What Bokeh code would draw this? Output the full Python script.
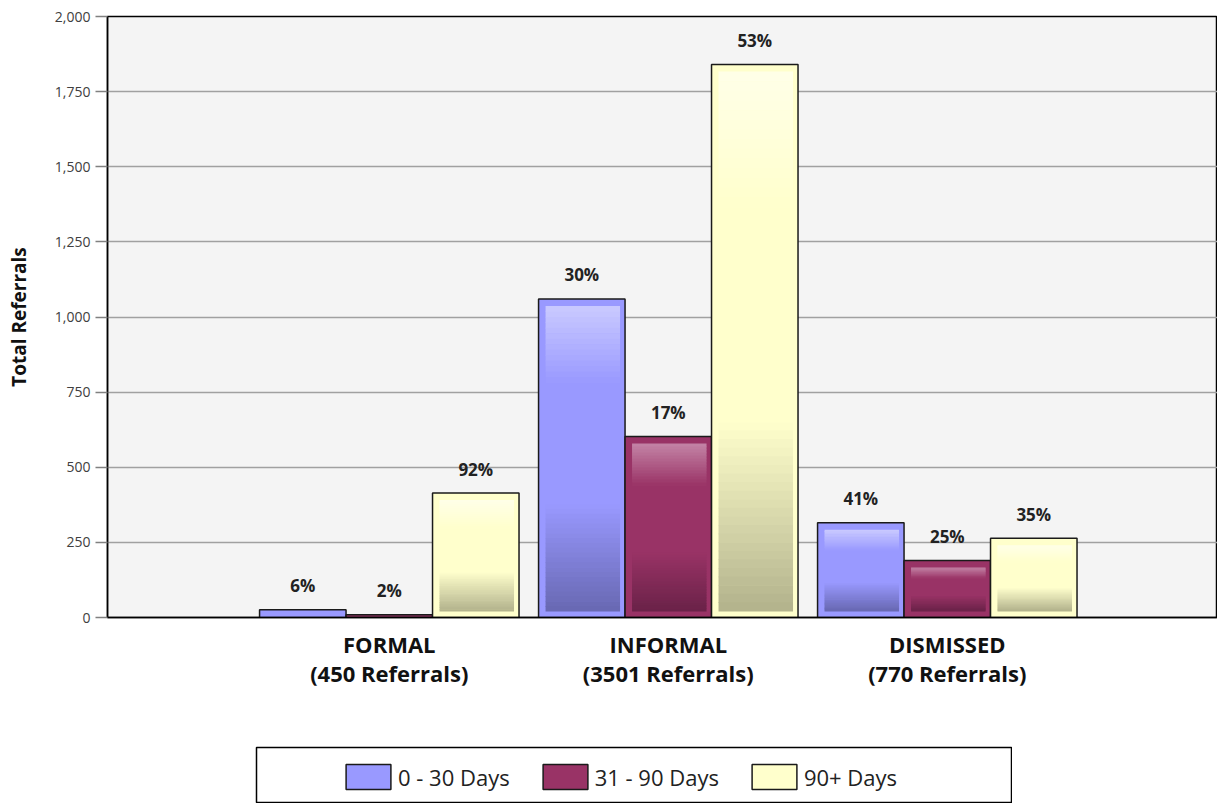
import numpy as np
from bokeh.plotting import figure
from bokeh.models import (Range1d, FixedTicker, NumeralTickFormatter, Legend,
                          LegendItem, Spacer, ColumnDataSource)
from bokeh.layouts import column, row
from bokeh.core.properties import value
from bokeh.embed import file_html
from bokeh.resources import INLINE

# ---------------- data ----------------
categories = ["FORMAL", "INFORMAL", "DISMISSED"]
totals = [450, 3501, 770]
series_names = ["0 - 30 Days", "31 - 90 Days", "90+ Days"]
days_0_30 = [26, 1060, 315]
days_31_90 = [9, 602, 190]
days_90_plus = [414, 1840, 264]
pct_0_30 = ["6%", "30%", "41%"]
pct_31_90 = ["2%", "17%", "25%"]
pct_90_plus = ["92%", "53%", "35%"]
y_ticks = [0, 250, 500, 750, 1000, 1250, 1500, 1750, 2000]

# ---------------- styles ----------------
FONT = "Open Sans"
base_colors = [(153, 153, 255), (153, 51, 102), (255, 255, 204)]
top_colors = [(202, 202, 255), (196, 132, 166), (255, 255, 232)]
bottom_colors = [(104, 104, 178), (106, 34, 72), (178, 178, 140)]

W, H = 1217, 746
BORDER_L, BORDER_T = 107, 16
FRAME_H = 601
BORDER_B = H - BORDER_T - FRAME_H
FRAME_W = W - BORDER_L
PX_PER_CAT = 279.0
X0 = -0.01
Y_MAX = 2000
BAR_W = 0.31
OFFSETS = [-BAR_W, 0.0, BAR_W]


def hexc(c):
    return "#%02x%02x%02x" % tuple(int(round(v)) for v in c)


def mix(a, b, t):
    return tuple(a[i] + (b[i] - a[i]) * t for i in range(3))


p = figure(width=W, height=H,
           x_range=Range1d(X0, X0 + FRAME_W / PX_PER_CAT),
           y_range=Range1d(0, Y_MAX),
           output_backend="svg", toolbar_location=None,
           min_border_left=BORDER_L, min_border_right=0,
           min_border_top=BORDER_T, min_border_bottom=BORDER_B,
           background_fill_color="#F4F4F4", border_fill_color="white",
           outline_line_color="black", outline_line_width=1.5)

# grid
p.xgrid.grid_line_color = None
p.ygrid.grid_line_color = "#A0A0A0"
p.ygrid.grid_line_width = 1.5
p.ygrid.ticker = FixedTicker(ticks=y_ticks)

# y axis
p.yaxis.ticker = FixedTicker(ticks=y_ticks)
p.yaxis.formatter = NumeralTickFormatter(format="0,0")
p.yaxis.axis_label = "Total Referrals"
p.yaxis.axis_label_text_font = FONT
p.yaxis.axis_label_text_font_style = "bold"
p.yaxis.axis_label_text_font_size = "19px"
p.yaxis.axis_label_text_color = "#111111"
p.yaxis.axis_label_standoff = 20
p.yaxis.major_label_text_font = FONT
p.yaxis.major_label_text_font_size = "14px"
p.yaxis.major_label_text_color = "#404040"
p.yaxis.major_label_standoff = 5
p.yaxis.major_tick_out = 12
p.yaxis.major_tick_in = 0
p.yaxis.major_tick_line_color = "#808080"
p.yaxis.major_tick_line_width = 1.5
p.yaxis.minor_tick_line_color = None
p.yaxis.axis_line_color = "black"
p.yaxis.axis_line_width = 1.5

# x axis
p.xaxis.ticker = FixedTicker(ticks=[1, 2, 3])
p.xaxis.major_label_overrides = {
    i + 1: "%s\n(%d Referrals)" % (categories[i], totals[i]) for i in range(3)
}
p.xaxis.major_label_text_font = FONT
p.xaxis.major_label_text_font_style = "bold"
p.xaxis.major_label_text_font_size = "22px"
p.xaxis.major_label_text_color = "#111111"
p.xaxis.major_label_text_line_height = 0.98
p.xaxis.major_label_standoff = 5
p.xaxis.major_tick_line_color = None
p.xaxis.minor_tick_line_color = None
p.xaxis.axis_line_color = "black"
p.xaxis.axis_line_width = 1.5

# ---------------- bars ----------------
series_values = [days_0_30, days_31_90, days_90_plus]
series_pcts = [pct_0_30, pct_31_90, pct_90_plus]
units_per_px_x = 1.0 / PX_PER_CAT
units_per_px_y = Y_MAX / FRAME_H
IN_L, IN_R, IN_T, IN_B = 7, 5, 7, 6
N_LIGHT, N_DARK = 14, 22
LIGHT_END, DARK_START = 0.25, 0.65

group_x = [i + 1 for i in range(len(categories))]

for s in range(3):
    xs = [g + OFFSETS[s] for g in group_x]
    p.vbar(x=xs, top=series_values[s], bottom=0, width=BAR_W,
           fill_color=hexc(base_colors[s]), line_color="#1a1a1a", line_width=1.5)

    # inner gradient, built as thin slices
    L, R, B, T, C = [], [], [], [], []
    for xc, v in zip(xs, series_values[s]):
        left = xc - BAR_W / 2 + IN_L * units_per_px_x
        right = xc + BAR_W / 2 - IN_R * units_per_px_x
        bot = IN_B * units_per_px_y
        top = v - IN_T * units_per_px_y
        h = top - bot
        if h <= 0:
            continue
        ov = 0.6 * units_per_px_y
        for k in range(N_LIGHT):
            f0 = LIGHT_END * k / N_LIGHT
            f1 = LIGHT_END * (k + 1) / N_LIGHT
            t = (f0 + f1) / 2 / LIGHT_END
            L.append(left); R.append(right)
            T.append(top - f0 * h); B.append(top - f1 * h - ov)
            C.append(hexc(mix(top_colors[s], base_colors[s], t)))
        for k in range(N_DARK):
            f0 = DARK_START + (1 - DARK_START) * k / N_DARK
            f1 = DARK_START + (1 - DARK_START) * (k + 1) / N_DARK
            t = ((f0 + f1) / 2 - DARK_START) / (1 - DARK_START)
            L.append(left); R.append(right)
            T.append(top - f0 * h + (ov if k > 0 else 0)); B.append(top - f1 * h)
            C.append(hexc(mix(base_colors[s], bottom_colors[s], t)))
    src = ColumnDataSource(dict(left=L, right=R, top=T, bottom=B, color=C))
    p.quad(left="left", right="right", top="top", bottom="bottom", source=src,
           fill_color="color", line_color=None)

    p.text(x=xs, y=series_values[s], text=series_pcts[s],
           text_align="center", text_baseline="alphabetic", y_offset=-24,
           text_font=value(FONT), text_font_style="bold",
           text_font_size="17px", text_color="#222222")

# ---------------- legend box ----------------
LEG_X, LEG_W, LEG_H = 255, 757, 57
p2 = figure(width=LEG_W, height=LEG_H, x_range=Range1d(0, 1), y_range=Range1d(0, 1),
            output_backend="svg", toolbar_location=None,
            min_border_left=1, min_border_right=1, min_border_top=1, min_border_bottom=0,
            background_fill_color="white", border_fill_color="white",
            outline_line_color="black", outline_line_width=1.5)
p2.axis.visible = False
p2.grid.visible = False
items = []
for s in range(3):
    # legend proxy: one NaN row so the swatch has a style but draws nothing in the box
    r = p2.quad(left=[np.nan], right=[np.nan], top=[np.nan], bottom=[np.nan],
                fill_color=hexc(base_colors[s]), line_color="#1a1a1a", line_width=1.5)
    items.append(LegendItem(label=series_names[s], renderers=[r]))
legend = Legend(items=items, orientation="horizontal", location=(84, 11),
                glyph_width=56, glyph_height=31, label_standoff=2, spacing=27,
                padding=0, margin=0, border_line_color=None,
                background_fill_alpha=0,
                label_text_font=FONT, label_text_font_size="22px",
                label_text_color="#222222")
p2.add_layout(legend, "center")

layout = column(p, row(Spacer(width=LEG_X, height=LEG_H), p2))
open("out.html", "w").write(file_html(layout, INLINE))
